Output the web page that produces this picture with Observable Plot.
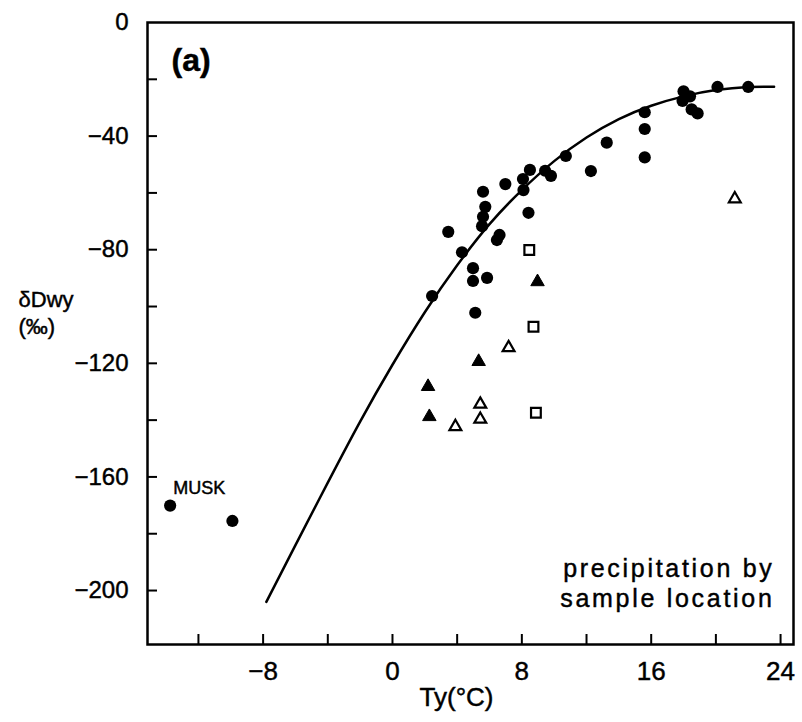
<!DOCTYPE html>
<html>
<head>
<meta charset="utf-8">
<script src="https://cdn.jsdelivr.net/npm/d3@7"></script>
<script src="https://cdn.jsdelivr.net/npm/@observablehq/plot@0.6"></script>
<style>
  html, body { margin: 0; padding: 0; background: #fff; }
  #chart svg { display: block; }
  #chart svg text { stroke: #000; stroke-width: 0.45px; }
</style>
</head>
<body>
<div id="chart"></div>
<script>
// ---- data ----
// filled circles: precipitation stations (Ty in °C, δDwy in ‰)
const circleT = [2.45, 3.45, 4.30, 4.98, 4.98, 5.85, 5.60, 5.74, 5.60, 5.54, 6.62, 6.46, 6.98, 8.41, 8.07, 8.10, 8.50, 9.44, 9.80, 10.72, 12.27, 13.25, 15.6, 15.6, 15.6, 17.94, 18.5, 18.87, 5.12, 18.0, 18.4, 20.1, 22.0];
const circleD = [-96.3, -73.7, -80.9, -86.5, -91.0, -89.9, -59.6, -64.9, -68.4, -71.7, -74.8, -76.6, -56.9, -67.0, -55.1, -59.0, -51.9, -52.2, -54.0, -47.0, -52.3, -42.3, -31.6, -37.5, -47.5, -27.6, -30.6, -32.0, -102.2, -24.2, -26.0, -22.7, -22.7];
// MUSK stations (filled circles, far left)
const muskT = [-13.75, -9.9];
const muskD = [-170.1, -175.5];
// filled triangles
const triFilledT = [8.97, 5.33, 2.20, 2.28];
const triFilledD = [-91.3, -119.4, -128.2, -138.8];
// open triangles
const triOpenT = [7.18, 5.43, 5.43, 3.89, 21.17];
const triOpenD = [-114.5, -134.4, -139.7, -142.3, -62.1];
// open squares
const squareT = [8.46, 8.72, 8.87];
const squareD = [-80.1, -107.1, -137.4];
// fitted curve
const curveT = [-7.8, -6, -4, -2, 0, 2, 4, 6, 8, 10, 12, 14, 16, 18, 20, 22, 23.6];
const curveD = [-204, -184, -162, -140.5, -120.5, -102, -85.5, -71, -59, -48.8, -40.5, -34, -29.3, -26, -23.8, -22.7, -22.6];
// axes
const xTickVals = [-12, -8, -4, 0, 4, 8, 12, 16, 20, 24];
const xLabelVals = [-8, 0, 8, 16, 24];
const yTickVals = [-20, -40, -60, -80, -100, -120, -140, -160, -180, -200];
const yLabelVals = [0, -40, -80, -120, -160, -200];
const xLabel = "Ty(°C)";
const yLabel = "δDwy\n(‰)";
const panelLabel = "(a)";
const muskLabel = "MUSK";
const note = "precipitation by\nsample location";

const pts = (xs, ys) => xs.map((x, i) => ({x, y: ys[i]}));

const W = 802, H = 722;
const mL = 147, mR = 9, mT = 22, mB = 78;
const innerW = W - mL - mR, innerH = H - mT - mB;
const font = "'Liberation Sans', Arial, sans-serif";
const fmt = d => d < 0 ? "\u2212" + Math.abs(d) : String(d);

const chart = Plot.plot({
  width: W,
  height: H,
  marginLeft: mL,
  marginRight: mR,
  marginTop: mT,
  marginBottom: mB,
  style: {fontFamily: font, background: "#fff", color: "#000"},
  x: {domain: [-15.15, 24.8]},
  y: {domain: [-219, 0]},
  marks: [
    Plot.frame({stroke: "#000", strokeWidth: 2.5}),
    // inward ticks
    Plot.ruleX(xTickVals, {x: d => d, insetTop: innerH - 10, stroke: "#000", strokeWidth: 2}),
    Plot.ruleY(yTickVals, {y: d => d, insetRight: innerW - 10, stroke: "#000", strokeWidth: 2}),
    Plot.axisX(xLabelVals, {tickSize: 0, tickPadding: 17, fontSize: 26, tickFormat: fmt, label: null}),
    Plot.axisY(yLabelVals, {tickSize: 0, tickPadding: 19, fontSize: 24, tickFormat: fmt, label: null}),
    Plot.line(pts(curveT, curveD), {x: "x", y: "y", curve: "natural", stroke: "#000", strokeWidth: 2.5}),
    Plot.dot(pts(circleT, circleD), {x: "x", y: "y", r: 6.1, fill: "#000", symbol: "circle"}),
    Plot.dot(pts(muskT, muskD), {x: "x", y: "y", r: 6.1, fill: "#000", symbol: "circle"}),
    Plot.dot(pts(triFilledT, triFilledD), {x: "x", y: "y", r: 5, fill: "#000", stroke: "#000", strokeWidth: 1, symbol: "triangle"}),
    Plot.dot(pts(triOpenT, triOpenD), {x: "x", y: "y", r: 4.4, fill: "#fff", stroke: "#000", strokeWidth: 2.2, symbol: "triangle"}),
    Plot.dot(pts(squareT, squareD), {x: "x", y: "y", r: 5.5, fill: "#fff", stroke: "#000", strokeWidth: 2.2, symbol: "square"}),
    Plot.text(pts(muskT.slice(0, 1), muskD.slice(0, 1)), {x: "x", y: "y", text: () => muskLabel, dx: 3, dy: -12, textAnchor: "start", lineAnchor: "bottom", fontSize: 18, fill: "#000"}),
    Plot.text([panelLabel], {frameAnchor: "top-left", dx: 24, dy: 26, textAnchor: "start", lineAnchor: "top", fontSize: 32, fontWeight: "bold", fill: "#000"}),
    Plot.text([note], {frameAnchor: "bottom-right", dx: -19, dy: -38, textAnchor: "end", lineAnchor: "bottom", fontSize: 25, lineHeight: 1.2, fill: "#000"}),
    Plot.text([xLabel], {frameAnchor: "bottom", dx: -14, dy: 43, lineAnchor: "top", fontSize: 26, fill: "#000"}),
    Plot.text([yLabel], {frameAnchor: "left", dx: -129, dy: -22, textAnchor: "start", lineAnchor: "middle", fontSize: 22, lineHeight: 1.25, fill: "#000"})
  ]
});
document.getElementById("chart").appendChild(chart);
// widen the letter spacing of the location note, as in the plotter lettering
d3.select(chart).selectAll("text")
  .filter(function () { return this.textContent.startsWith("precipitation"); })
  .style("letter-spacing", "2.7px");
</script>
</body>
</html>
